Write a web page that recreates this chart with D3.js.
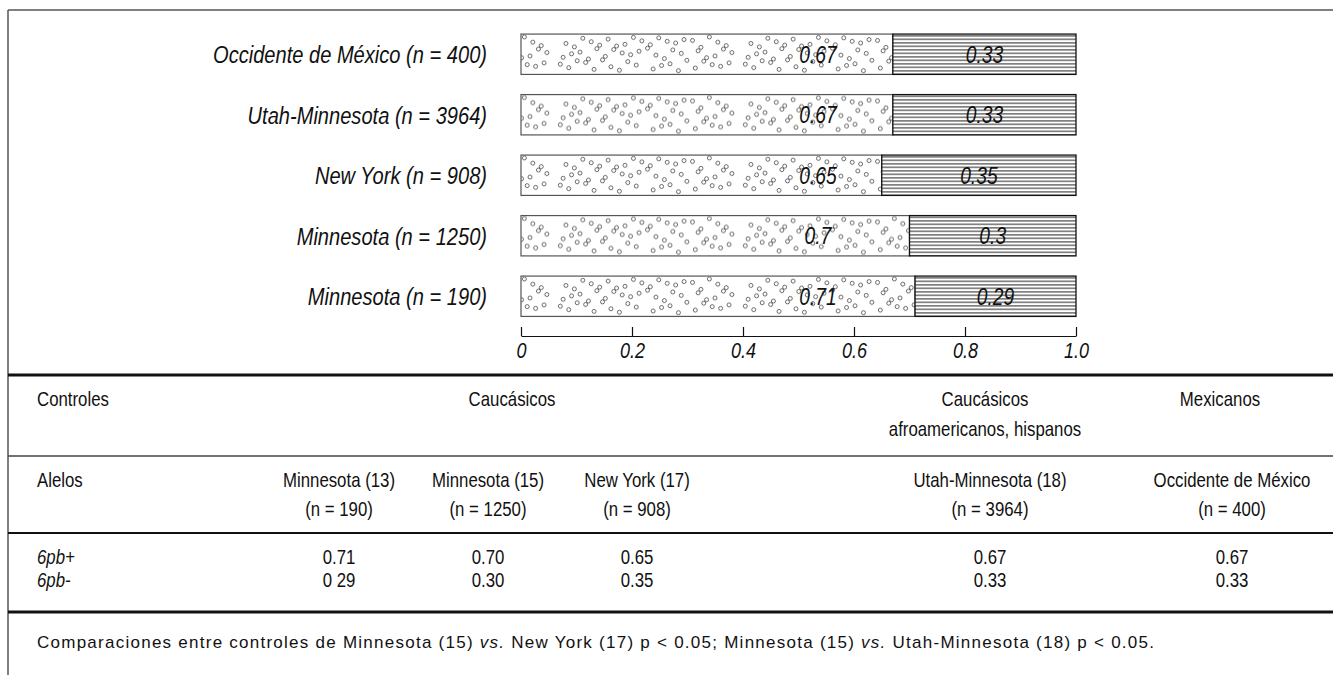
<!DOCTYPE html>
<html>
<head>
<meta charset="utf-8">
<script src="https://cdn.jsdelivr.net/npm/d3@7"></script>
<style>
  body { margin: 0; background: #fff; }
  svg { display: block; }
</style>
</head>
<body>
<div id="chart"></div>
<script>
// bar chart data (top to bottom)
const groups = ["Occidente de México (n = 400)", "Utah-Minnesota (n = 3964)", "New York (n = 908)", "Minnesota (n = 1250)", "Minnesota (n = 190)"];
const plusFreq = [0.67, 0.67, 0.65, 0.70, 0.71];
const minusFreq = [0.33, 0.33, 0.35, 0.30, 0.29];
const tickValues = [0, 0.2, 0.4, 0.6, 0.8, 1.0];
const tickLabels = ["0", "0.2", "0.4", "0.6", "0.8", "1.0"];

// table data
const tableColumns = ["Minnesota (13)", "Minnesota (15)", "New York (17)", "Utah-Minnesota (18)", "Occidente de México"];
const tableN = ["(n = 190)", "(n = 1250)", "(n = 908)", "(n = 3964)", "(n = 400)"];
const tablePlus = ["0.71", "0.70", "0.65", "0.67", "0.67"];
const tableMinus = ["0 29", "0.30", "0.35", "0.33", "0.33"];
const alleles = ["6pb+", "6pb-"];

const width = 1333;
const height = 675;
const FONT = "'Liberation Sans', Arial, sans-serif";
const SQUEEZE = 0.82;   // no narrow font installed, squeeze Liberation Sans instead

const svg = d3.select("#chart")
    .append("svg")
    .attr("width", width)
    .attr("height", height);

const defs = svg.append("defs");

// dotted texture (Halton sequence, deterministic)
function halton(i, b) {
    let f = 1, r = 0;
    while (i > 0) { f /= b; r += f * (i % b); i = Math.floor(i / b); }
    return r;
}
const dotTile = { w: 185, h: 40, n: 60 };
const dots = defs.append("pattern")
    .attr("id", "dots")
    .attr("patternUnits", "userSpaceOnUse")
    .attr("width", dotTile.w)
    .attr("height", dotTile.h);
dots.append("rect").attr("width", dotTile.w).attr("height", dotTile.h).attr("fill", "#fff");
dots.selectAll("circle")
    .data(d3.range(1, dotTile.n + 1))
    .enter().append("circle")
    .attr("cx", i => 2.5 + halton(i, 2) * (dotTile.w - 5))
    .attr("cy", i => 2.5 + halton(i, 3) * (dotTile.h - 5))
    .attr("r", 2)
    .attr("fill", "none")
    .attr("stroke", "#444")
    .attr("stroke-width", 0.8);

// horizontal hatch
const hatch = defs.append("pattern")
    .attr("id", "hatch")
    .attr("patternUnits", "userSpaceOnUse")
    .attr("width", 8)
    .attr("height", 3.5);
hatch.append("rect").attr("width", 8).attr("height", 3.5).attr("fill", "#fff");
hatch.append("line")
    .attr("x1", 0).attr("x2", 8)
    .attr("y1", 1.75).attr("y2", 1.75)
    .attr("stroke", "#222")
    .attr("stroke-width", 1);

// frame and rules
svg.append("line")
    .attr("x1", 8).attr("x2", width).attr("y1", 10).attr("y2", 10)
    .attr("stroke", "#555").attr("stroke-width", 1.5);
svg.append("line")
    .attr("x1", 8).attr("x2", 8).attr("y1", 10).attr("y2", height)
    .attr("stroke", "#555").attr("stroke-width", 1.5);

const rules = [
    { y: 375, w: 3, c: "#111" },
    { y: 456, w: 1.5, c: "#444" },
    { y: 533, w: 2, c: "#111" },
    { y: 612, w: 3, c: "#111" }
];
svg.selectAll(".rule")
    .data(rules)
    .enter().append("line")
    .attr("class", "rule")
    .attr("x1", 8).attr("x2", width)
    .attr("y1", d => d.y).attr("y2", d => d.y)
    .attr("stroke", d => d.c)
    .attr("stroke-width", d => d.w);

// text helper: places squeezed text at (x, y)
function narrow(parent, x, y, txt, size, anchor, italic) {
    return parent.append("text")
        .attr("transform", `translate(${x},${y}) scale(${SQUEEZE},1)`)
        .attr("dy", "0.36em")
        .attr("text-anchor", anchor || "start")
        .style("font-family", FONT)
        .style("font-style", italic ? "italic" : "normal")
        .style("font-size", size + "px")
        .attr("fill", "#111")
        .text(txt);
}

// bars
const xScale = d3.scaleLinear().domain([0, 1]).range([521, 1076]);
const yScale = d3.scaleBand()
    .domain(groups)
    .range([24, 326.5])
    .paddingInner(1 / 3)
    .paddingOuter(1 / 6);

const rowData = groups.map((g, i) => ({ name: g, plus: plusFreq[i], minus: minusFreq[i] }));

rowData.forEach(d => {
    const row = svg.append("g")
        .attr("class", "row")
        .attr("transform", `translate(0,${yScale(d.name)})`);
    const mid = yScale.bandwidth() / 2;

    row.append("rect")
        .attr("x", xScale(0))
        .attr("width", xScale(d.plus) - xScale(0))
        .attr("height", yScale.bandwidth())
        .attr("fill", "url(#dots)")
        .attr("stroke", "#555")
        .attr("stroke-width", 1.2);

    row.append("rect")
        .attr("x", xScale(d.plus))
        .attr("width", xScale(d.plus + d.minus) - xScale(d.plus))
        .attr("height", yScale.bandwidth())
        .attr("fill", "url(#hatch)")
        .attr("stroke", "#111")
        .attr("stroke-width", 1.3);

    narrow(row, xScale(0.535), mid, String(d.plus), 23.5, "middle", true);
    narrow(row, xScale(d.plus + d.minus / 2), mid, String(d.minus), 23.5, "middle", true);
    narrow(row, 487, mid, d.name, 24.5, "end", true);
});

// axis
const xAxis = d3.axisBottom(xScale)
    .tickValues(tickValues)
    .tickFormat((d, i) => tickLabels[i])
    .tickSize(-9)
    .tickSizeOuter(0)
    .tickPadding(6);

const axisG = svg.append("g")
    .attr("transform", "translate(0,336)")
    .call(xAxis);
axisG.select(".domain").attr("stroke", "#111").attr("stroke-width", 1.2);
axisG.selectAll(".tick line").attr("stroke", "#111").attr("stroke-width", 1.2);
axisG.selectAll("text")
    .attr("transform", `scale(${SQUEEZE},1)`)
    .style("font-family", FONT)
    .style("font-style", "italic")
    .style("font-size", "22px")
    .attr("fill", "#111");

// table
const colX = [339, 488, 637, 990, 1232];
const TS = 20.5;

narrow(svg, 37, 399, "Controles", TS);
narrow(svg, 512, 399, "Caucásicos", TS, "middle");
narrow(svg, 985, 399, "Caucásicos", TS, "middle");
narrow(svg, 985, 429, "afroamericanos, hispanos", TS, "middle");
narrow(svg, 1220, 399, "Mexicanos", TS, "middle");

narrow(svg, 37, 480, "Alelos", TS);
tableColumns.forEach((c, i) => {
    narrow(svg, colX[i], 480, c, TS, "middle");
    narrow(svg, colX[i], 509, tableN[i], TS, "middle");
});

narrow(svg, 37, 557, alleles[0], TS, "start", true);
narrow(svg, 37, 580, alleles[1], TS, "start", true);
tablePlus.forEach((v, i) => narrow(svg, colX[i], 557, v, TS, "middle"));
tableMinus.forEach((v, i) => narrow(svg, colX[i], 580, v, TS, "middle"));

// footnote
const foot = svg.append("text")
    .attr("x", 37)
    .attr("y", 642)
    .attr("dy", "0.36em")
    .style("font-family", FONT)
    .style("font-size", "17px")
    .attr("fill", "#111")
    .attr("textLength", 1117)
    .attr("lengthAdjust", "spacing");
const footParts = [
    ["Comparaciones entre controles de Minnesota (15) ", false],
    ["vs.", true],
    [" New York (17) p < 0.05; Minnesota (15) ", false],
    ["vs.", true],
    [" Utah-Minnesota (18) p < 0.05.", false]
];
footParts.forEach(p => {
    foot.append("tspan")
        .style("font-style", p[1] ? "italic" : "normal")
        .text(p[0]);
});
</script>
</body>
</html>
